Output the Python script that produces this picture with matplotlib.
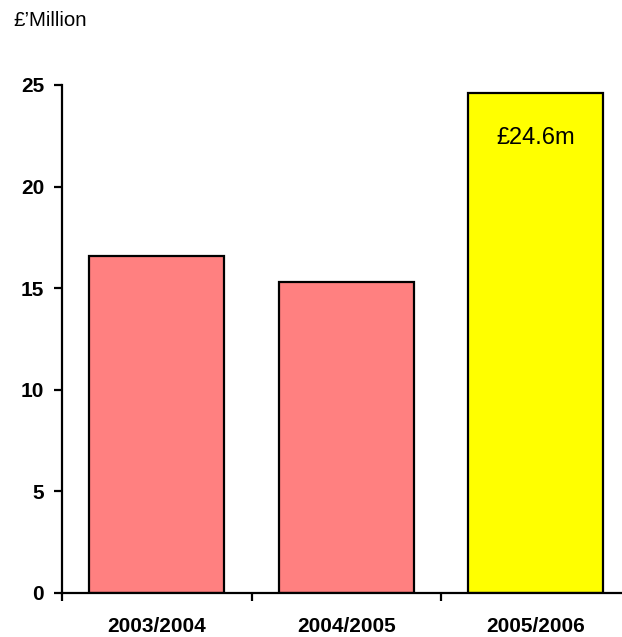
import matplotlib.pyplot as plt

years = ['2003/2004', '2004/2005', '2005/2006']
spend = [16.6, 15.3, 24.6]
colours = ['#FF8080', '#FF8080', '#FFFF00']
yticks = [0, 5, 10, 15, 20, 25]

plt.rcParams['font.family'] = ['Liberation Sans', 'DejaVu Sans']

fig = plt.figure(figsize=(6.22, 6.37), dpi=100)
ax = fig.add_axes([62 / 622, 44 / 637, 568.5 / 622, 508 / 637])

x = range(len(years))
ax.bar(x, spend, width=0.71, color=colours, edgecolor='black', linewidth=1.6)

ax.set_xlim(-0.5, 2.5)
ax.set_ylim(0, 25)
ax.set_yticks(yticks)
ax.set_yticklabels([str(t) for t in yticks], fontsize=15, fontweight='bold')

# boundary ticks between categories, labels on the minor ticks
ax.set_xticks([-0.5, 0.5, 1.5, 2.5])
ax.set_xticklabels([])
ax.set_xticks(list(x), minor=True)
ax.set_xticklabels(years, minor=True, fontsize=15, fontweight='bold')
ax.tick_params(axis='x', which='minor', length=0, pad=17)
ax.tick_params(axis='x', which='major', length=5.5, width=1.6)
ax.tick_params(axis='y', length=5.8, width=1.6, pad=7)

for side in ['top', 'right']:
    ax.spines[side].set_visible(False)
for side in ['left', 'bottom']:
    ax.spines[side].set_linewidth(1.6)

ax.text(2, spend[2] - 2.2, '£%.1fm' % spend[2], ha='center', va='center', fontsize=17)

fig.text(13 / 622, 1 - 21 / 637, '£’Million', ha='left', va='center', fontsize=14.8)

plt.savefig('out.png', dpi=100)
